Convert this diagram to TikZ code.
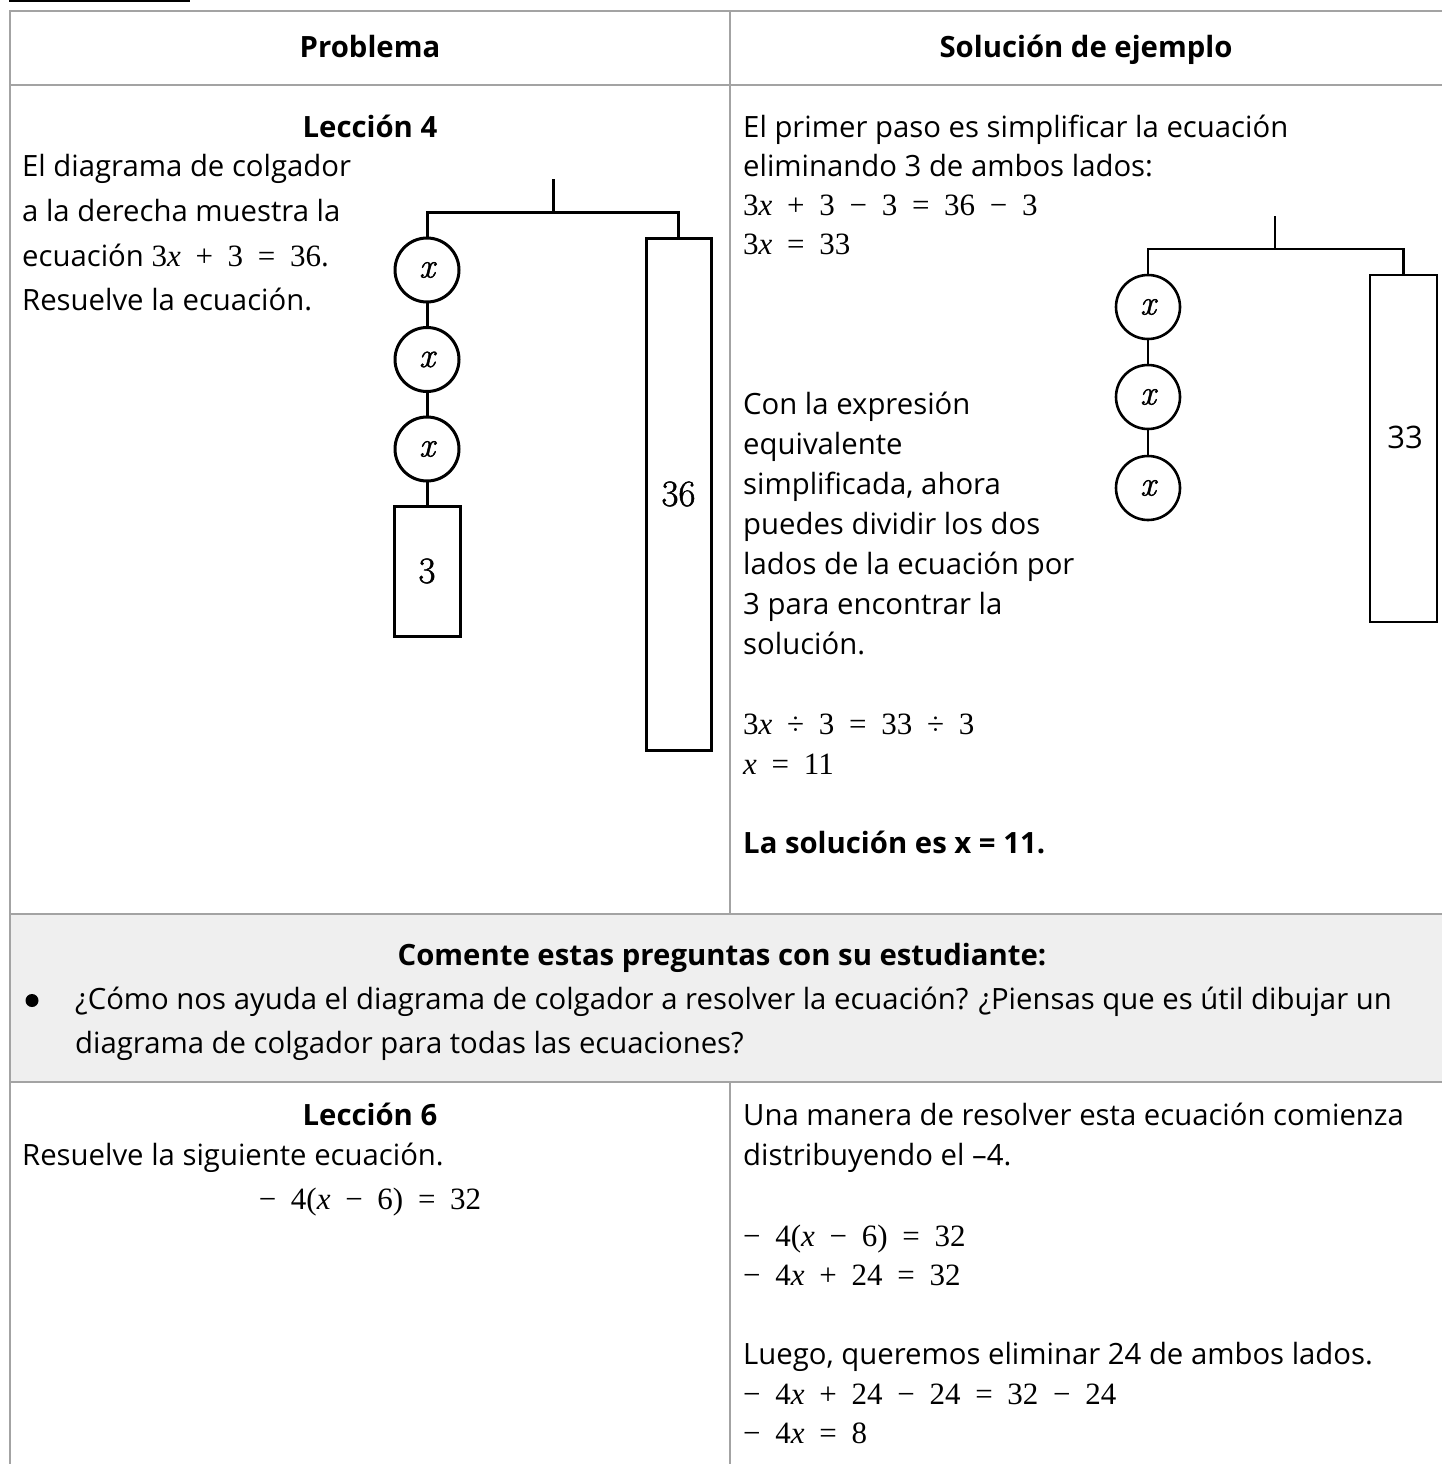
\documentclass[tikz,border=0pt]{standalone}
\usepackage{fontspec}
\setmainfont{Open Sans}
\newfontfamily\mf[WordSpace=1.9]{Liberation Serif}
\newfontfamily\lmr[FakeBold=1.3]{Latin Modern Roman}
\newcommand\mx{{\itshape x}}
\newcommand\mth[1]{{\fontsize{31}{35}\mf #1}}
\definecolor{tablegray}{HTML}{A3A3A3}
\definecolor{rowgray}{HTML}{EFEFEF}
\begin{document}
\begin{tikzpicture}[x=1pt,y=-1pt,
  txt/.style={anchor=base west, inner sep=0pt, font=\fontsize{29.3}{35}\selectfont},
  ctr/.style={anchor=base, inner sep=0pt, font=\fontsize{29.3}{35}\selectfont},
  bold/.style={font=\fontsize{29.3}{35}\selectfont\bfseries},
  grid/.style={draw=tablegray, line width=2.2pt},
  hang/.style={line width=3pt, line cap=rect},
  bob/.style={draw, circle, line width=3pt, minimum size=64pt, inner sep=0pt, font=\lmr\fontsize{35}{36}\selectfont\itshape},
  weight/.style={draw, rectangle, line width=3pt, inner sep=0pt, font=\lmr\fontsize{37}{40}\selectfont}
]
\useasboundingbox (0,0) rectangle (1442,1464);
% short black rule at top
\draw[line width=1.8pt] (9,0.9) -- (190,0.9);
% table
\fill[rowgray] (10,914) rectangle (1442,1082);
\draw[grid] (10,11) -- (1442,11);
\draw[grid] (10,85) -- (1442,85);
\draw[grid] (10,914) -- (1442,914);
\draw[grid] (10,1082) -- (1442,1082);
\draw[grid] (10,10) -- (10,1464);
\draw[grid] (730,11) -- (730,914);
\draw[grid] (730,1082) -- (730,1464);

% header
\node[ctr,bold] (h1) at (370,58) {Problema};
\node[ctr,bold] (h2) at (1086,58) {Solución de ejemplo};

% row 2 left
\node[ctr,bold] (l4) at (370,137) {Lección 4};
\node[txt] (p1) at (22,176) {El diagrama de colgador};
\node[txt] (p2) at (22,221) {a la derecha muestra la};
\node[txt] (p3) at (22,266) {ecuación \mth{3\mx{} + 3 = 36}.};
\node[txt] (p4) at (22,310) {Resuelve la ecuación.};

% left hanger
\coordinate (lt) at (553,180);
\coordinate (lp) at (553,212);
\coordinate (lbl) at (427,212);
\coordinate (lbr) at (678.5,212);
\node[bob] (a1) at (427,270) {x};
\node[bob] (a2) at (427,359.5) {x};
\node[bob] (a3) at (427,449) {x};
\node[weight, minimum width=66pt, minimum height=130pt] (a4) at (427,571) {3};
\node[weight, minimum width=65pt, minimum height=512pt] (a5) at (678.5,494) {36};
\draw[hang] (lt) -- (lp);
\draw[hang] (a1.north) -- (lbl) -- (lbr) -- (a5.north);
\draw[hang] (a1) -- (a2);
\draw[hang] (a2) -- (a3);
\draw[hang] (a3) -- (a4);

% row 2 right
\node[txt] (r1) at (743,137) {El primer paso es simplificar la ecuación};
\node[txt] (r2) at (743,176) {eliminando 3 de ambos lados:};
\node[txt] (r3) at (743,215) {\mth{3\mx{} + 3 − 3 = 36 − 3}};
\node[txt] (r4) at (743,254) {\mth{3\mx{} = 33}};
\node[txt] (r5) at (743,414) {Con la expresión};
\node[txt] (r6) at (743,454) {equivalente};
\node[txt] (r7) at (743,494) {simplificada, ahora};
\node[txt] (r8) at (743,534) {puedes dividir los dos};
\node[txt] (r9) at (743,574) {lados de la ecuación por};
\node[txt] (r10) at (743,614) {3 para encontrar la};
\node[txt] (r11) at (743,654) {solución.};
\node[txt] (r12) at (743,734) {\mth{3\mx{} ÷ 3 = 33 ÷ 3}};
\node[txt] (r13) at (743,774) {\mth{\mx{} = 11}};
\node[txt,bold] (r14) at (743,853) {La solución es x = 11.};

% right hanger
\coordinate (rt) at (1275,217);
\coordinate (rp) at (1275,249);
\coordinate (rbl) at (1148,249);
\coordinate (rbr) at (1403.5,249);
\node[bob, line width=2.6pt] (b1) at (1148,307) {x};
\node[bob, line width=2.6pt] (b2) at (1148,397) {x};
\node[bob, line width=2.6pt] (b3) at (1148,488) {x};
\node[weight, line width=2.6pt, minimum width=67pt, minimum height=347pt] (b4) at (1403.5,448.5) {};
\node[inner sep=0pt, font=\fontsize{31}{33}\selectfont] (b5) at (1405,437) {33};
\draw[hang, line width=2.6pt] (rt) -- (rp);
\draw[hang, line width=2.6pt] (b1.north) -- (rbl) -- (rbr) -- (b4.north);
\draw[hang, line width=2.6pt] (b1) -- (b2);
\draw[hang, line width=2.6pt] (b2) -- (b3);

% row 3
\node[ctr,bold] (q0) at (722,965) {Comente estas preguntas con su estudiante:};
\fill (32,1000.5) circle (6.5);
\node[txt] (q1) at (75,1009) {¿Cómo nos ayuda el diagrama de colgador a resolver la ecuación? ¿Piensas que es útil dibujar un};
\node[txt] (q2) at (75,1053) {diagrama de colgador para todas las ecuaciones?};

% row 4 left
\node[ctr,bold] (l6) at (370,1125) {Lección 6};
\node[txt] (s1) at (22,1165) {Resuelve la siguiente ecuación.};
\node[ctr] (s2) at (370,1209) {\mth{− 4(\mx{} − 6) = 32}};

% row 4 right
\node[txt] (t1) at (743,1125) {Una manera de resolver esta ecuación comienza};
\node[txt] (t2) at (743,1165) {distribuyendo el –4.};
\node[txt] (t3) at (743,1246) {\mth{− 4(\mx{} − 6) = 32}};
\node[txt] (t4) at (743,1285) {\mth{− 4\mx{} + 24 = 32}};
\node[txt] (t5) at (743,1364) {Luego, queremos eliminar 24 de ambos lados.};
\node[txt] (t6) at (743,1404) {\mth{− 4\mx{} + 24 − 24 = 32 − 24}};
\node[txt] (t7) at (743,1443) {\mth{− 4\mx{} = 8}};
\end{tikzpicture}
\end{document}
